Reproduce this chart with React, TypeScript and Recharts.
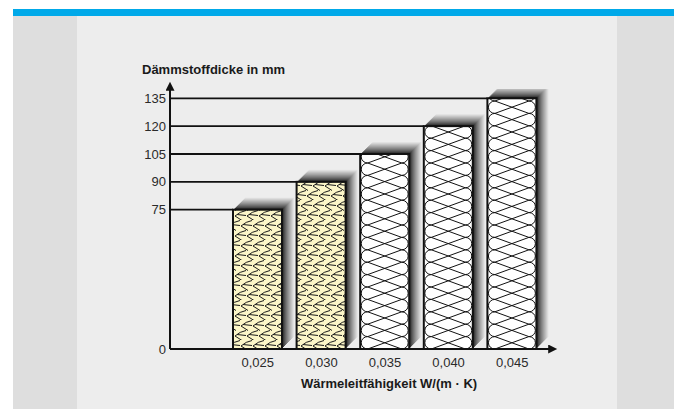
import React from 'react';
import { BarChart, Bar, XAxis, YAxis } from 'recharts';

// Wärmeleitfähigkeit vs. erforderliche Dämmstoffdicke
const categories = ['0,025', '0,030', '0,035', '0,040', '0,045'];
const thickness = [75, 90, 105, 120, 135];
const material = ['holz', 'holz', 'mineral', 'mineral', 'mineral'];
const yTicks = [0, 75, 90, 105, 120, 135];

const data = categories.map((k, i) => ({ k, value: thickness[i], material: material[i] }));

const MARGIN = { top: 89, right: 124, bottom: 30, left: 110 };
const Y_WIDTH = 60;
const PLOT_LEFT = MARGIN.left + Y_WIDTH;
const FONT = '"Liberation Sans", Arial, sans-serif';
const SHADOW_STEPS = 12;

function shade(i: number) {
    // i = 1 nearest (dark) .. SHADOW_STEPS farthest (light)
    const t = Math.pow((i - 1) / (SHADOW_STEPS - 1), 0.8);
    const v = Math.round(30 + t * 195);
    return `rgb(${v},${v},${v})`;
}

const GLYPH = 'M12,0.5 Q6,1.5 1,6 L8,10.5 M3,4.5 L12,5.5';

function InsulationBar(props: any) {
    const { x, y, width, height, index, payload } = props;
    if (height <= 0) return null;
    const layers = [];
    for (let i = SHADOW_STEPS; i >= 1; i--) {
        layers.push(
            <rect key={i} x={x + i} y={y - i} width={width} height={height} fill={shade(i)} />
        );
    }
    let fill = '#ffffff';
    const rows = [];
    if (payload.material === 'holz') {
        fill = 'url(#holzPattern)';
    } else {
        const h = 12.4;
        const rx = 6.5;
        const r = h / 2;
        const bottom = y + height;
        const n = Math.ceil(height / h);
        const l = x + 1 + rx;
        const rr = x + width - 1 - rx;
        for (let k = 0; k < n; k++) {
            const y0 = bottom - (k + 1) * h;
            const d =
                `M${l},${y0} A${rx},${r} 0 0 0 ${l},${y0 + h} ` +
                `M${rr},${y0} A${rx},${r} 0 0 1 ${rr},${y0 + h} ` +
                `M${l},${y0} L${rr},${y0 + h} M${l},${y0 + h} L${rr},${y0}`;
            rows.push(<path key={k} d={d} fill="none" stroke="#111" strokeWidth={1} />);
        }
    }
    const clipId = `barclip-${index}`;
    return (
        <g>
            {layers}
            <line x1={PLOT_LEFT} y1={y} x2={x} y2={y} stroke="#111" strokeWidth={1.8} />
            <clipPath id={clipId}>
                <rect x={x} y={y} width={width} height={height} />
            </clipPath>
            <rect x={x} y={y} width={width} height={height} fill={fill} />
            <g clipPath={`url(#${clipId})`}>{rows}</g>
            <rect x={x} y={y} width={width} height={height} fill="none" stroke="#111" strokeWidth={2} />
        </g>
    );
}

export default function App() {
    return (
        <div style={{ position: 'fixed', left: 0, top: 0, width: 674, height: 409, background: '#fff', fontFamily: FONT }}>
            <svg width={0} height={0} style={{ position: 'absolute' }}>
                <defs>
                    <marker id="arrowhead" viewBox="0 0 10 10" refX={2} refY={5} markerWidth={10} markerHeight={9}
                        markerUnits="userSpaceOnUse" orient="auto-start-reverse">
                        <path d="M0,0 L10,5 L0,10 z" fill="#111" />
                    </marker>
                    <pattern id="holzPattern" patternUnits="userSpaceOnUse" width={12} height={20}>
                        <rect width={12} height={20} fill="#fcf6c8" />
                        <path d={GLYPH} fill="none" stroke="#1a1a1a" strokeWidth={1} />
                        <path d={GLYPH} transform="translate(6,10)" fill="none" stroke="#1a1a1a" strokeWidth={1} />
                        <path d={GLYPH} transform="translate(-6,10)" fill="none" stroke="#1a1a1a" strokeWidth={1} />
                    </pattern>
                </defs>
            </svg>
            <div style={{ position: 'absolute', left: 13, top: 9, width: 661, height: 400, background: '#dedede' }} />
            <div style={{ position: 'absolute', left: 13, top: 9, width: 661, height: 7, background: '#00a9e9' }} />
            <div style={{ position: 'absolute', left: 77, top: 16, width: 540, height: 393, background: '#ededed' }} />
            <div style={{ position: 'absolute', left: 142, top: 62, fontSize: 13, fontWeight: 'bold', color: '#1a1a1a', whiteSpace: 'nowrap' }}>
                Dämmstoffdicke in mm
            </div>
            <div style={{ position: 'absolute', left: 289, top: 376, width: 200, textAlign: 'center', fontSize: 13, fontWeight: 'bold', color: '#1a1a1a', whiteSpace: 'nowrap' }}>
                Wärmeleitfähigkeit W/(m · K)
            </div>
            <div style={{ position: 'absolute', left: 0, top: 0 }}>
                <BarChart width={674} height={409} data={data} margin={MARGIN} barSize={49}>
                    <XAxis
                        dataKey="k"
                        height={30}
                        padding={{ left: 56, right: 6 }}
                        tickLine={false}
                        tickSize={0}
                        tickMargin={9}
                        axisLine={{ stroke: '#111', strokeWidth: 2, markerEnd: 'url(#arrowhead)' }}
                        tick={{ fill: '#2a2a2a', fontSize: 13, fontFamily: FONT }}
                        interval={0}
                    />
                    <YAxis
                        width={Y_WIDTH}
                        domain={[0, 140]}
                        ticks={yTicks}
                        tickLine={false}
                        tickSize={0}
                        tickMargin={4}
                        axisLine={{ stroke: '#111', strokeWidth: 2, markerStart: 'url(#arrowhead)' }}
                        tick={{ fill: '#2a2a2a', fontSize: 13, fontFamily: FONT }}
                        allowDataOverflow
                    />
                    <Bar dataKey="value" shape={InsulationBar} isAnimationActive={false} />
                </BarChart>
            </div>
        </div>
    );
}
